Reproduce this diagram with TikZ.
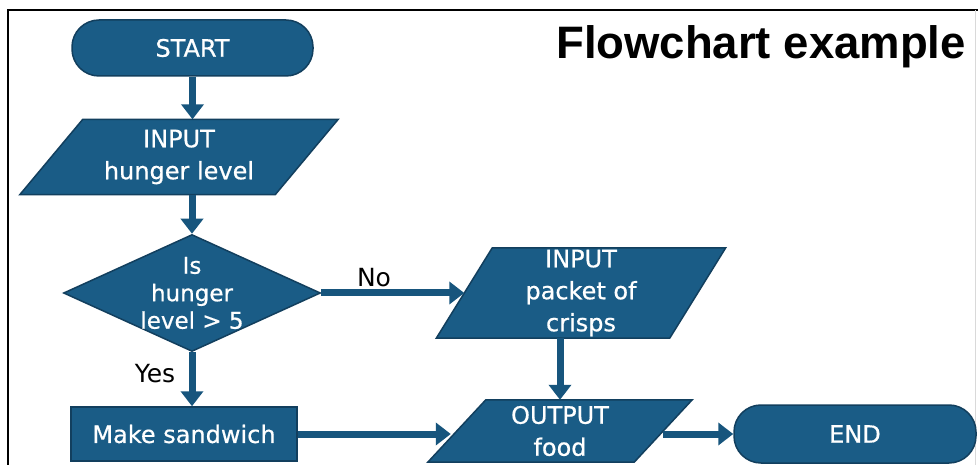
\documentclass[tikz,border=0pt]{standalone}
\usepackage{fontspec}
\setmainfont{DejaVu Sans}
\newfontfamily\titlefont{Liberation Sans}
\newfontfamily\nodefam[FakeBold=0.6]{DejaVu Sans}
\usetikzlibrary{shapes.geometric,arrows.meta,backgrounds,calc}
\definecolor{fc}{HTML}{1A5C86}
\definecolor{bc}{HTML}{123F5E}
\definecolor{ac}{HTML}{17557D}
\newcommand\parafill[2]{%
  \begin{pgfonlayer}{background}
  \filldraw[fill=fc,draw=bc,line width=1.5pt]
    ([xshift=#2]#1.north west) -- ([xshift=#2]#1.north east) --
    ([xshift=-#2]#1.south east) -- ([xshift=-#2]#1.south west) -- cycle;
  \end{pgfonlayer}}
\begin{document}
\begin{tikzpicture}[x=1pt,y=-1pt,
  nodefont/.style={font=\nodefam\fontsize{24}{32}\selectfont},
  box/.style={nodefont,fill=fc,draw=bc,line width=1.5pt,text=white,align=center,inner sep=0pt},
  pill/.style={box,rectangle,rounded corners=27pt},
  ioslot/.style={nodefont,rectangle,inner sep=0pt,text=white,align=center},
  flow/.style={draw=ac,line width=7pt,-{Triangle[width=22pt,length=15pt]}},
  lbl/.style={font=\fontsize{25}{28}\selectfont,text=black,inner sep=0pt}]
\begin{pgfonlayer}{background}
  \fill[white] (0,0) rectangle (978,465);
\end{pgfonlayer}
\useasboundingbox (0,0) rectangle (978,465);
\draw[black,line width=1.5pt] (8,470) -- (8,10) -- (990,10);
\draw[black!15,line width=1pt] (975,10) -- (975,470);

\node[anchor=west,inner sep=0pt,font=\titlefont\bfseries\fontsize{45.5}{50}\selectfont] (title) at (556,47) {Flowchart example};

\node[pill,minimum width=241pt,minimum height=56pt] (start) at (192.5,48) {START};

\node[ioslot,minimum width=255pt,minimum height=75pt] (in1) at (179,157) {INPUT\\hunger level};
\parafill{in1}{31.5pt}

\node[box,diamond,minimum width=257pt,minimum height=117pt] (dec) at (192,293) {};
\node[ioslot,font=\nodefam\fontsize{23}{27.5}\selectfont] (dect) at (192,293) {Is\\hunger\\level > 5};

\node[ioslot,minimum width=233pt,minimum height=90pt] (crisps) at (581,293) {INPUT\\packet of\\crisps};
\parafill{crisps}{28pt}

\node[box,rectangle,minimum width=226pt,minimum height=54pt] (sand) at (184,434) {Make sandwich};

\node[ioslot,minimum width=206pt,minimum height=62pt] (out) at (560,431) {OUTPUT\\food};
\parafill{out}{29pt}

\node[pill,minimum width=242pt,minimum height=58pt] (endn) at (855,434) {END};

\node[lbl] (no) at (374,278) {No};
\node[lbl] (yes) at (155,374) {Yes};

\draw[flow] (start.south) -- (start.south |- in1.north);
\draw[flow] (dec.north |- in1.south) -- (dec.north);
\draw[flow] (dec.east) -- (crisps.west);
\draw[flow] (dec.south) -- (dec.south |- sand.north);
\draw[flow] (out.north |- crisps.south) -- (out.north);
\draw[flow] (sand.east) -- ($(sand.east -| out.west)+(-6,0)$);
\draw[flow] (endn.west -| out.east) -- (endn.west);
\end{tikzpicture}
\end{document}
